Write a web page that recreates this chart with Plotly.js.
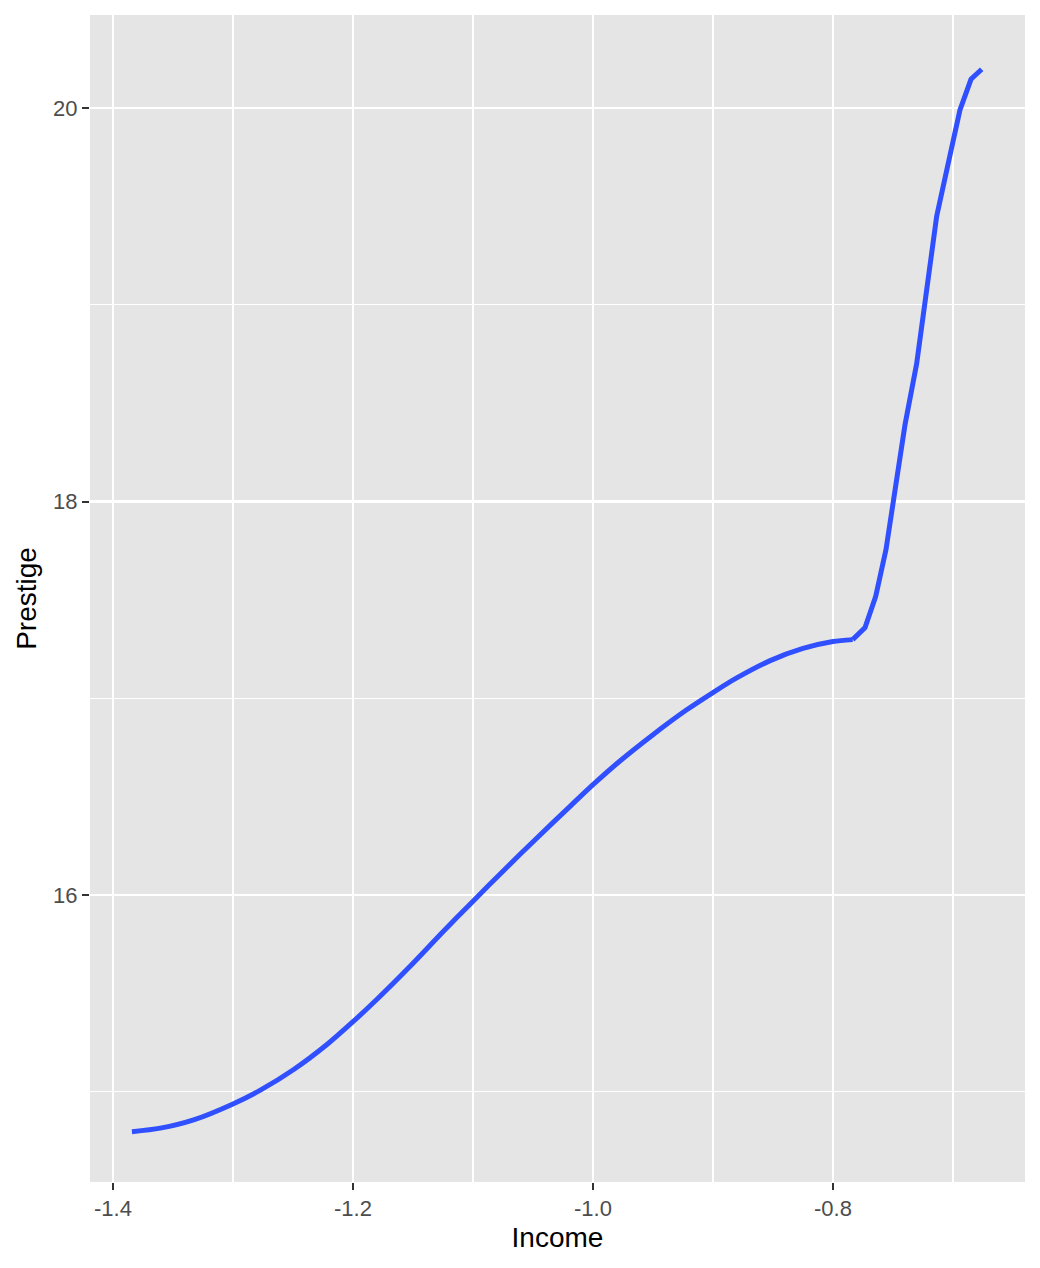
<!DOCTYPE html>
<html>
<head>
<meta charset="utf-8">
<script src="https://cdn.plot.ly/plotly-3.0.1.min.js"></script>
<style>html,body{margin:0;padding:0;background:#fff;}#chart{width:1040px;height:1268px;}</style>
</head>
<body>
<div id="chart"></div>
<script>
// Fitted curve, smooth lower part
const incomeSmooth = [-1.3842, -1.3606, -1.3328, -1.30, -1.2772, -1.2494, -1.2217, -1.20, -1.18, -1.1522, -1.1244, -1.101,
                      -1.0744, -1.0467, -1.0189, -1.00, -0.9778, -0.95, -0.9222, -0.90, -0.8806, -0.8528, -0.825, -0.80, -0.7836];
const prestigeSmooth = [14.797, 14.815, 14.857, 14.938, 15.008, 15.113, 15.240, 15.356, 15.47, 15.639, 15.817, 15.962,
                        16.125, 16.29, 16.452, 16.561, 16.68, 16.815, 16.94, 17.029, 17.102, 17.19, 17.253, 17.288, 17.298];
// Fitted curve, steep upper part
const incomeSteep = [-0.7836, -0.7733, -0.7644, -0.7558, -0.7483, -0.74, -0.7303, -0.7219, -0.7136, -0.7025, -0.6942, -0.6850, -0.6761];
const prestigeSteep = [17.298, 17.359, 17.518, 17.757, 18.058, 18.39, 18.70, 19.055, 19.45, 19.76, 19.99, 20.146, 20.197];

const xTickVals = [-1.4, -1.2, -1.0, -0.8];
const xTickText = ["-1.4", "-1.2", "-1.0", "-0.8"];
const xMinorVals = [-1.3, -1.1, -0.9, -0.7];
const yTickVals = [16, 18, 20];
const yTickText = ["16", "18", "20"];
const yMinorVals = [15, 17, 19];

const lineColor = '#3050FF';
const lineWidth = 5;

const traces = [
  {x: incomeSmooth, y: prestigeSmooth, type: 'scatter', mode: 'lines',
   line: {color: lineColor, width: lineWidth, shape: 'spline', smoothing: 0.8}, hoverinfo: 'skip'},
  {x: incomeSteep, y: prestigeSteep, type: 'scatter', mode: 'lines',
   line: {color: lineColor, width: lineWidth, shape: 'linear'}, hoverinfo: 'skip'}
];

const layout = {
  width: 1040, height: 1268,
  margin: {l: 90, r: 15, t: 15, b: 86},
  paper_bgcolor: '#FFFFFF',
  plot_bgcolor: '#E5E5E5',
  showlegend: false,
  font: {family: 'Liberation Sans, Arial, sans-serif', color: '#000'},
  xaxis: {
    range: [-1.41917, -0.64],
    tickmode: 'array', tickvals: xTickVals, ticktext: xTickText,
    ticks: 'outside', ticklen: 7, tickwidth: 2, tickcolor: '#333333',
    tickfont: {size: 22, color: '#4D4D4D'},
    showgrid: true, gridcolor: '#FFFFFF', gridwidth: 2.6,
    minor: {tickmode: 'array', tickvals: xMinorVals, showgrid: true, gridcolor: '#FFFFFF', gridwidth: 1.3, ticks: ''},
    zeroline: false, showline: false,
    title: {text: 'Income', font: {size: 28, color: '#000'}, standoff: 6}
  },
  yaxis: {
    range: [14.5413, 20.4727],
    tickmode: 'array', tickvals: yTickVals, ticktext: yTickText,
    ticks: 'outside', ticklen: 7, tickwidth: 2, tickcolor: '#333333',
    tickfont: {size: 22, color: '#4D4D4D'},
    showgrid: true, gridcolor: '#FFFFFF', gridwidth: 2.6,
    minor: {tickmode: 'array', tickvals: yMinorVals, showgrid: true, gridcolor: '#FFFFFF', gridwidth: 1.3, ticks: ''},
    zeroline: false, showline: false,
    title: {text: 'Prestige', font: {size: 28, color: '#000'}, standoff: 8}
  }
};

Plotly.newPlot('chart', traces, layout, {staticPlot: true, displayModeBar: false});
</script>
</body>
</html>
